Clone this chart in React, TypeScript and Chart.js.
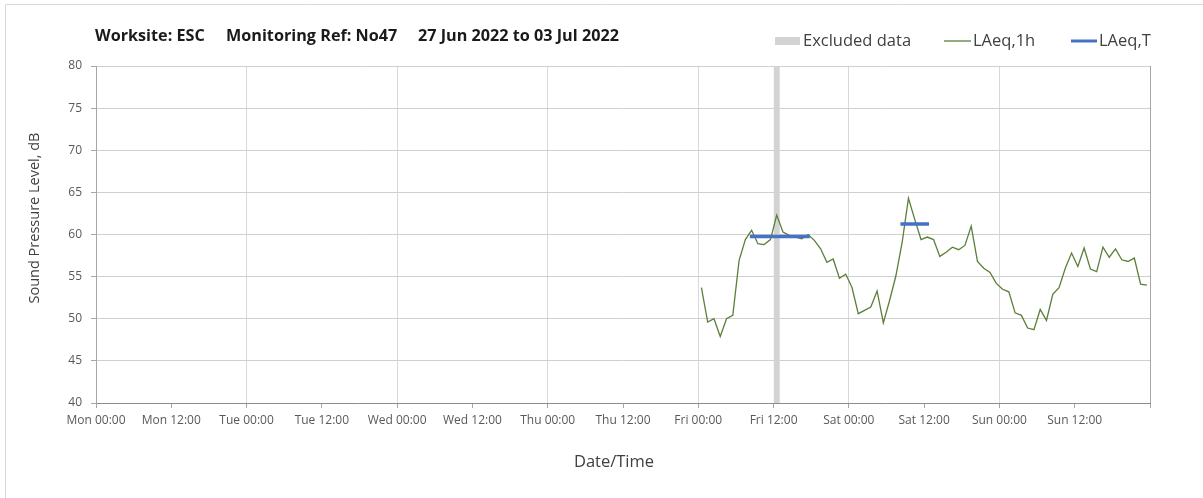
import React, { useEffect, useRef } from "react";
import { Chart, registerables } from "chart.js";

Chart.register(...registerables);

// ---- Data ----
const tickLabels = [
  "Mon 00:00", "Mon 12:00", "Tue 00:00", "Tue 12:00", "Wed 00:00", "Wed 12:00",
  "Thu 00:00", "Thu 12:00", "Fri 00:00", "Fri 12:00", "Sat 00:00", "Sat 12:00",
  "Sun 00:00", "Sun 12:00", "",
];

// hours from Mon 00:00 where the hourly record starts (Fri 00:00)
const laeq1hStartHour = 96;
// LAeq,1h values, one per hour from Fri 00:00 to Sun 23:00 (plotted at mid-hour)
const laeq1hValues = [
  53.7, 49.6, 50.0, 47.9, 50.0, 50.4, 56.9, 59.4, 60.5, 58.9, 58.8, 59.4,
  62.3, 60.3, 59.9, 59.7, 59.5, 60.0, 59.3, 58.3, 56.7, 57.1, 54.8, 55.3,
  53.7, 50.6, 51.0, 51.4, 53.3, 49.5, 52.2, 55.1, 59.1, 64.3, 61.8, 59.4,
  59.7, 59.4, 57.4, 57.9, 58.5, 58.2, 58.7, 61.0, 56.8, 56.0, 55.5, 54.2,
  53.5, 53.2, 50.7, 50.4, 48.9, 48.7, 51.1, 49.8, 52.9, 53.7, 56.0, 57.8,
  56.2, 58.4, 55.9, 55.6, 58.5, 57.3, 58.3, 57.0, 56.8, 57.2, 54.1, 54.0,
];

// LAeq,T periods: start hour, end hour, level
const laeqTStart = [104.5, 128.5];
const laeqTEnd = [113.5, 132.5];
const laeqTLevel = [59.75, 61.25];

// Excluded data periods (hours from Mon 00:00)
const excludedStart = [108];
const excludedEnd = [109];

const yMin = 40;
const yMax = 80;

const titleParts = ["Worksite: ESC", "Monitoring Ref: No47", "27 Jun 2022 to 03 Jul 2022"];

const FONT = "'Open Sans', Lato, sans-serif";

export default function App() {
  const ref = useRef<HTMLCanvasElement | null>(null);

  useEffect(() => {
    document.body.style.margin = "0";
    const canvas = ref.current;
    if (!canvas) return;

    const lineData = laeq1hValues.map((v, i) => ({ x: laeq1hStartHour + i + 0.5, y: v }));
    const laeqTData: { x: number; y: number | null }[] = [];
    laeqTStart.forEach((s, i) => {
      if (i > 0) laeqTData.push({ x: (laeqTEnd[i - 1] + s) / 2, y: null });
      laeqTData.push({ x: s, y: laeqTLevel[i] });
      laeqTData.push({ x: laeqTEnd[i], y: laeqTLevel[i] });
    });
    const exclData: { x: number; y: number | null }[] = [];
    excludedStart.forEach((s, i) => {
      if (i > 0) exclData.push({ x: s - 0.5, y: null });
      exclData.push({ x: s, y: yMax });
      exclData.push({ x: excludedEnd[i], y: yMax });
    });

    const decor = {
      id: "decor",
      afterDraw(chart: any) {
        const ctx = chart.ctx as CanvasRenderingContext2D;
        ctx.save();
        // outer border
        ctx.strokeStyle = "#d9d9d9";
        ctx.lineWidth = 1;
        ctx.beginPath();
        ctx.moveTo(5.5, 498);
        ctx.lineTo(5.5, 4.5);
        ctx.lineTo(1203, 4.5);
        ctx.stroke();

        // title
        ctx.fillStyle = "#1a1a1a";
        ctx.font = `bold 16.2px ${FONT}`;
        ctx.textBaseline = "middle";
        ctx.textAlign = "left";
        const tx = [95, 226, 418];
        titleParts.forEach((t, i) => ctx.fillText(t, tx[i], 36));

        // legend
        ctx.font = `16.5px ${FONT}`;
        ctx.fillStyle = "#d3d3d3";
        ctx.fillRect(775, 37, 25, 8);
        ctx.fillStyle = "#404040";
        ctx.fillText("Excluded data", 803, 41);
        ctx.strokeStyle = "#5b7f3a";
        ctx.lineWidth = 1.3;
        ctx.beginPath();
        ctx.moveTo(944, 41);
        ctx.lineTo(971, 41);
        ctx.stroke();
        ctx.fillText("LAeq,1h", 973, 41);
        ctx.strokeStyle = "#4472c4";
        ctx.lineWidth = 3;
        ctx.beginPath();
        ctx.moveTo(1071, 41);
        ctx.lineTo(1097, 41);
        ctx.stroke();
        ctx.fillText("LAeq,T", 1099, 41);

        // axis titles
        ctx.fillStyle = "#404040";
        ctx.textAlign = "center";
        ctx.font = `16.5px ${FONT}`;
        ctx.fillText("Date/Time", 614, 462);
        ctx.font = `14.5px ${FONT}`;
        ctx.translate(35, 218);
        ctx.rotate(-Math.PI / 2);
        ctx.fillText("Sound Pressure Level, dB", 0, 0);
        ctx.restore();
      },
    };

    const chart = new Chart(canvas, {
      type: "line",
      data: {
        datasets: [
          {
            label: "LAeq,T",
            data: laeqTData as any,
            borderColor: "#4472c4",
            borderWidth: 3.5,
            borderCapStyle: "square",
            pointRadius: 0,
            spanGaps: false,
            fill: false,
          },
          {
            label: "LAeq,1h",
            data: lineData as any,
            borderColor: "#5b7f3a",
            borderWidth: 1.3,
            pointRadius: 0,
            tension: 0,
            fill: false,
          },
          {
            label: "Excluded data",
            data: exclData as any,
            borderWidth: 0,
            borderColor: "rgba(0,0,0,0)",
            backgroundColor: "#d3d3d3",
            pointRadius: 0,
            fill: "start",
            spanGaps: false,
          },
        ],
      },
      options: {
        animation: false,
        responsive: false,
        devicePixelRatio: 1,
        layout: { padding: { top: 66, right: 53, left: 0, bottom: 0 } },
        plugins: {
          legend: { display: false },
          title: { display: false },
          tooltip: { enabled: false },
        },
        scales: {
          x: {
            type: "linear",
            min: 0,
            max: 168,
            afterFit: (s: any) => {
              s.height = 95;
            },
            ticks: {
              stepSize: 12,
              autoSkip: false,
              maxRotation: 0,
              minRotation: 0,
              padding: 5,
              color: "#595959",
              font: { family: FONT, size: 12 },
              callback: (v: any) => tickLabels[Math.round(Number(v) / 12)] ?? "",
            },
            grid: {
              color: (c: any) => {
                const v = c.tick ? c.tick.value : 0;
                if (v === 168) return "#a6a6a6";
                return v % 24 === 0 ? "#d9d9d9" : "rgba(0,0,0,0)";
              },
              tickColor: "#a6a6a6",
              tickLength: 5,
              lineWidth: 1,
            },
            border: { color: "#8c8c8c", width: 1 },
          },
          y: {
            min: yMin,
            max: yMax,
            afterFit: (s: any) => {
              s.width = 96;
            },
            ticks: {
              stepSize: 5,
              padding: 9,
              color: "#595959",
              font: { family: FONT, size: 12 },
            },
            grid: {
              color: "#d0d0d0",
              tickColor: "#a6a6a6",
              tickLength: 5,
            },
            border: { color: "#a6a6a6", width: 1 },
          },
        },
      },
      plugins: [decor],
    });

    return () => chart.destroy();
  }, []);

  return (
    <canvas
      ref={ref}
      width={1203}
      height={498}
      style={{ display: "block", width: 1203, height: 498 }}
    />
  );
}
